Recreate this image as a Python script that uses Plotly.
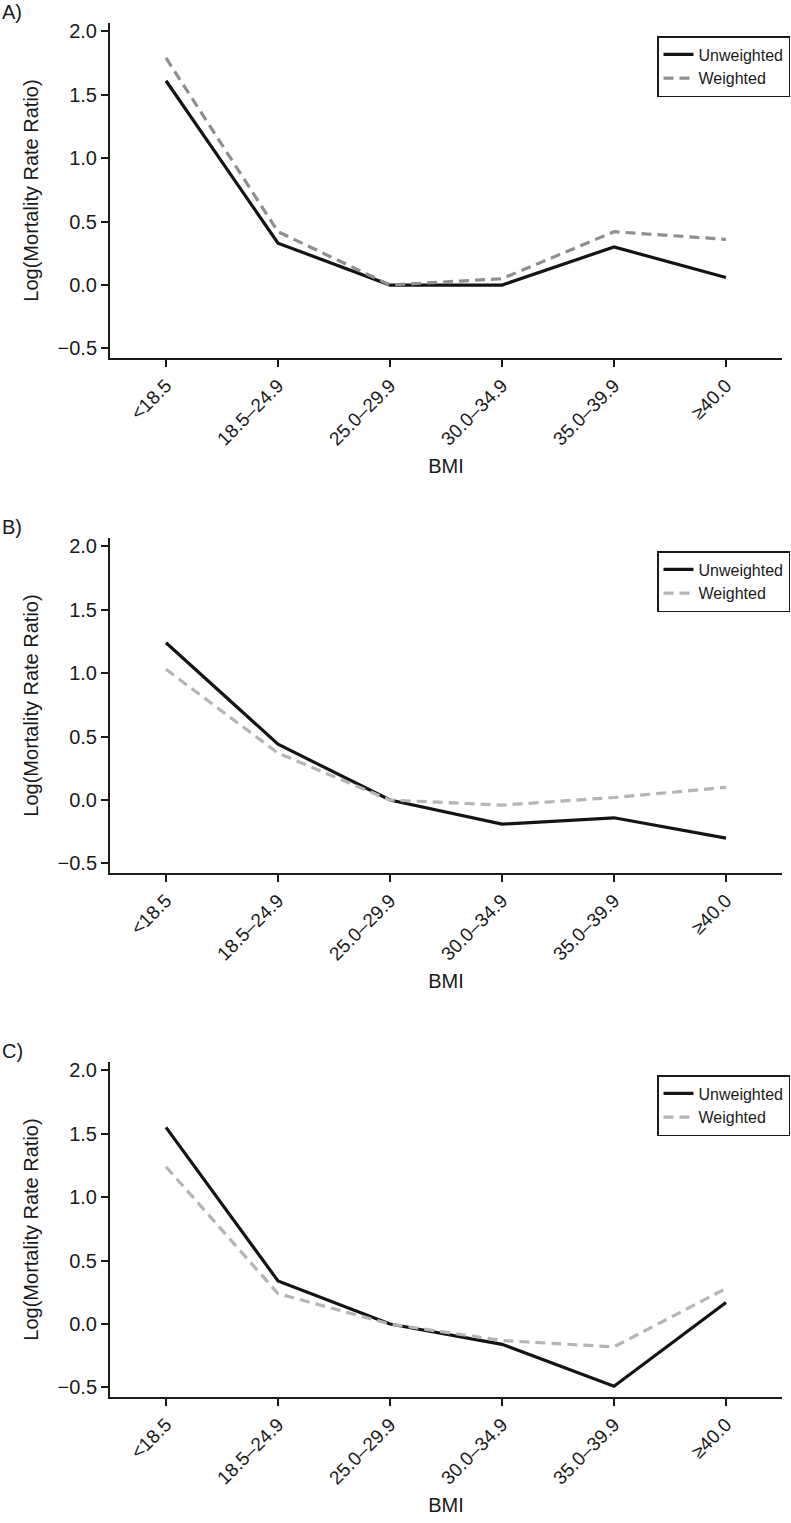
import plotly.graph_objects as go

# ---- data ----
bmi_categories = ["<18.5", "18.5–24.9", "25.0–29.9", "30.0–34.9", "35.0–39.9", "≥40.0"]
panel_labels = ["A)", "B)", "C)"]
a_unweighted = [1.61, 0.33, 0.0, 0.0, 0.30, 0.06]
a_weighted = [1.79, 0.42, 0.0, 0.05, 0.42, 0.36]
b_unweighted = [1.24, 0.44, 0.0, -0.19, -0.14, -0.30]
b_weighted = [1.03, 0.37, 0.0, -0.04, 0.02, 0.10]
c_unweighted = [1.55, 0.34, 0.0, -0.16, -0.49, 0.17]
c_weighted = [1.24, 0.24, 0.0, -0.13, -0.18, 0.28]
y_tickvals = [-0.5, 0.0, 0.5, 1.0, 1.5, 2.0]
y_ticktext = ["−0.5", "0.0", "0.5", "1.0", "1.5", "2.0"]

W, H = 791, 1523
FONT = "Liberation Sans, Arial, Helvetica, sans-serif"
TXT = "#1a1a1a"

panels = [
    (a_unweighted, a_weighted, "#8f8f8f", 23),
    (b_unweighted, b_weighted, "#b5b5b5", 538),
    (c_unweighted, c_weighted, "#b5b5b5", 1062),
]
PANEL_H = 335
X_LEFT, X_RIGHT = 110, 782

fig = go.Figure()
layout = dict(
    width=W, height=H,
    margin=dict(l=0, r=0, t=0, b=0),
    paper_bgcolor="white", plot_bgcolor="white",
    font=dict(family=FONT, size=20, color=TXT),
    showlegend=True,
    annotations=[],
)

for i, (unw, wtd, wcol, top) in enumerate(panels):
    n = "" if i == 0 else str(i + 1)
    xa = "x" + n
    ya = "y" + n
    leg = "legend" + n
    fig.add_trace(go.Scatter(
        x=bmi_categories, y=unw, mode="lines", name="Unweighted",
        line=dict(color="#141414", width=3.2),
        xaxis=xa, yaxis=ya, legend=leg,
    ))
    fig.add_trace(go.Scatter(
        x=bmi_categories, y=wtd, mode="lines", name="Weighted",
        line=dict(color=wcol, width=3.2, dash="10px,6px"),
        xaxis=xa, yaxis=ya, legend=leg,
    ))
    y0 = 1 - (top + PANEL_H) / H
    y1 = 1 - top / H
    layout["xaxis" + n] = dict(
        domain=[X_LEFT / W, X_RIGHT / W], anchor=ya,
        type="category", categoryorder="array", categoryarray=bmi_categories,
        range=[-0.5, 5.5],
        showline=True, linecolor=TXT, linewidth=2,
        ticks="outside", ticklen=7, tickwidth=1.5, tickcolor=TXT,
        tickangle=-45, tickfont=dict(size=19, color=TXT),
        showgrid=False, zeroline=False,
        title=dict(text="BMI", font=dict(size=20, color=TXT), standoff=10),
        automargin=False,
    )
    layout["yaxis" + n] = dict(
        domain=[y0, y1], anchor=xa,
        range=[-0.575, 2.065],
        tickvals=y_tickvals, ticktext=y_ticktext,
        showline=True, linecolor=TXT, linewidth=2,
        ticks="outside", ticklen=7, tickwidth=1.5, tickcolor=TXT,
        tickfont=dict(size=20, color=TXT),
        showgrid=False, zeroline=False,
        title=dict(text="Log(Mortality Rate Ratio)", font=dict(size=20, color=TXT), standoff=14),
        automargin=False,
    )
    layout[leg] = dict(
        x=790 / W, xanchor="right",
        y=1 - (top + 13) / H, yanchor="top",
        bgcolor="white", bordercolor=TXT, borderwidth=1.5,
        font=dict(size=16, color=TXT), tracegroupgap=0,
    )
    layout["annotations"].append(dict(
        text=panel_labels[i], xref="paper", yref="paper",
        x=0, xanchor="left", y=1 - (top - 11) / H, yanchor="middle",
        showarrow=False, font=dict(size=20, color=TXT),
    ))

fig.update_layout(**layout)
fig.write_html(
    "out.html",
    config={"displayModeBar": False},
    post_script="document.body.style.margin='0';document.body.style.overflow='hidden';",
)
